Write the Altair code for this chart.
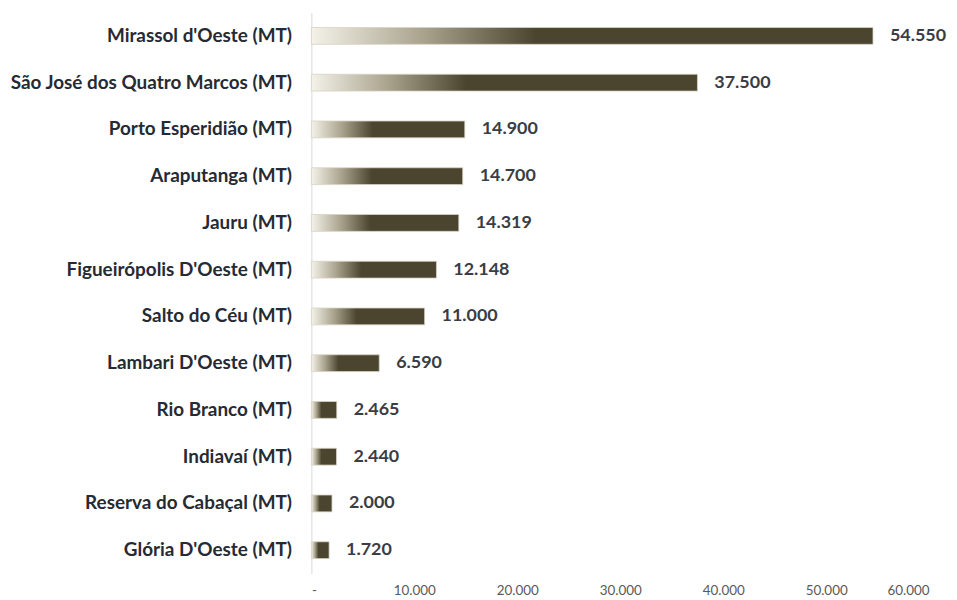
import altair as alt
import pandas as pd

municipios = [
    "Mirassol d'Oeste (MT)",
    "São José dos Quatro Marcos (MT)",
    "Porto Esperidião (MT)",
    "Araputanga (MT)",
    "Jauru (MT)",
    "Figueirópolis D'Oeste (MT)",
    "Salto do Céu (MT)",
    "Lambari D'Oeste (MT)",
    "Rio Branco (MT)",
    "Indiavaí (MT)",
    "Reserva do Cabaçal (MT)",
    "Glória D'Oeste (MT)",
]
valores = [54550, 37500, 14900, 14700, 14319, 12148, 11000, 6590, 2465, 2440, 2000, 1720]
x_ticks = [0, 10000, 20000, 30000, 40000, 50000, 60000]

df = pd.DataFrame({"municipio": municipios, "valor": valores})
df["rotulo"] = [f"{v:,}".replace(",", ".") for v in valores]

FONT = "Lato"
dark = "#4b452f"

grad = alt.Gradient(
    gradient="linear",
    x1=0, x2=1, y1=0, y2=0,
    stops=[
        alt.GradientStop(offset=0, color="#f4f2e9"),
        alt.GradientStop(offset=0.2, color="#a9a38d"),
        alt.GradientStop(offset=0.4, color=dark),
        alt.GradientStop(offset=1, color=dark),
    ],
)

y_enc = alt.Y(
    "municipio:N",
    sort=municipios,
    title=None,
    scale=alt.Scale(paddingInner=0.64, paddingOuter=0.32),
    axis=alt.Axis(
        labelFont=FONT, labelFontWeight="bold", labelFontSize=19,
        labelColor="#262a33", labelPadding=20, ticks=False,
        domainColor="#d9d9d9", domainWidth=1, labelLimit=400,
    ),
)
x_enc = alt.X(
    "valor:Q",
    title=None,
    scale=alt.Scale(domain=[0, 60000], nice=False),
    axis=alt.Axis(
        values=x_ticks, grid=False, domain=False, ticks=False,
        labelFont=FONT, labelFontSize=13.5, labelColor="#595959", labelPadding=10,
        labelExpr="datum.value == 0 ? '-' : replace(format(datum.value, ','), ',', '.')",
    ),
)

bars = alt.Chart(df).mark_bar(color=grad, stroke="#d8d3c2", strokeWidth=0.8).encode(
    x=x_enc, y=y_enc
)
labels = alt.Chart(df).mark_text(
    align="left", baseline="middle", dx=17, font=FONT, fontWeight="bold",
    fontSize=18, color="#3a3d44",
).encode(x="valor:Q", y=alt.Y("municipio:N", sort=municipios), text="rotulo:N")

chart = (
    alt.layer(bars, labels)
    .properties(
        width=621, height=564,
        background="white",
        autosize=alt.AutoSizeParams(type="none"),
        padding={"left": 305, "top": 3, "right": 20, "bottom": 25},
    )
    .configure_view(strokeWidth=0, stroke=None)
)

chart.save("out.html", embed_options={"renderer": "svg", "actions": False})
